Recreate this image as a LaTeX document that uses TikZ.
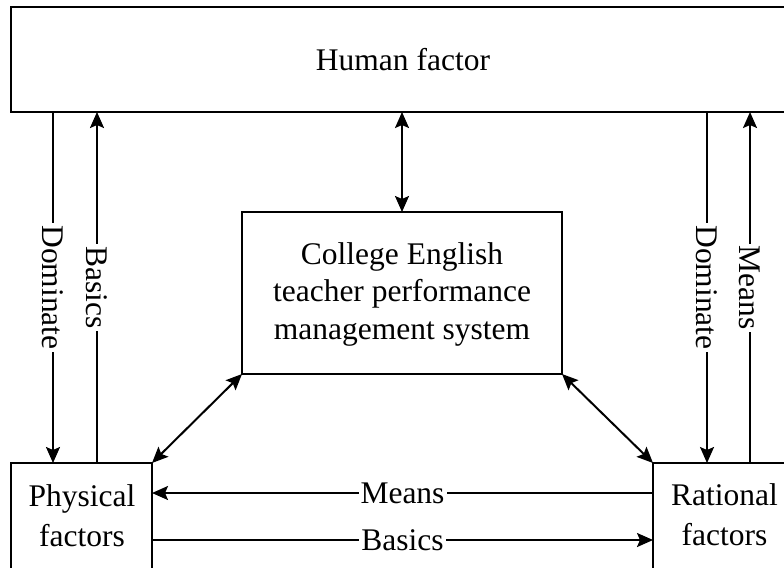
\documentclass[tikz,border=0pt]{standalone}
\usepackage{fontspec}
\setmainfont{Liberation Serif}
\usetikzlibrary{arrows.meta}
\tikzset{
  box/.style={draw, line width=1pt, rectangle, inner sep=0pt, outer sep=0pt, anchor=north west},
  txt/.style={align=center, inner sep=0pt, font=\fontsize{12.6}{16}\selectfont},
  arr/.style={line width=0.8pt, -{Stealth[length=6.4pt, width=5.6pt, inset=1.2pt]}},
  darr/.style={line width=0.8pt, {Stealth[length=6.4pt, width=5.6pt, inset=1.2pt]}-{Stealth[length=6.4pt, width=5.6pt, inset=1.2pt]}},
  lbl/.style={fill=white, inner sep=0.8pt, font=\fontsize{12.6}{15}\selectfont},
}
\begin{document}
\begin{tikzpicture}[x=0.4pt, y=-0.4pt]
\useasboundingbox (0,0) rectangle (784,567);
\clip (0,0) rectangle (784,567);
% boxes
\node[box, minimum width={789*0.4pt}, minimum height={105*0.4pt}] (human) at (11,7) {};
\node[txt] (humantxt) at (403,59.5) {Human factor};
\node[box, minimum width={320*0.4pt}, minimum height={162*0.4pt}] (center) at (242,212) {};
\node[txt, font=\fontsize{12.6}{15}\selectfont] (centertxt) at (402,294) {College English\\teacher performance\\management system};
\node[box, minimum width={141*0.4pt}, minimum height={150*0.4pt}] (phys) at (11,463) {};
\node[txt] (phystxt) at (82,516) {Physical\\factors};
\node[box, minimum width={200*0.4pt}, minimum height={150*0.4pt}] (rat) at (653,463) {};
\node[txt] (rattxt) at (724.5,514.5) {Rational\\factors};
% helper coordinates
\coordinate (xDL) at (53,0);
\coordinate (xBL) at (97,0);
\coordinate (xDR) at (707,0);
\coordinate (xMR) at (750,0);
\coordinate (yM) at (0,493);
\coordinate (yB) at (0,540);
% vertical connectors
\draw[arr] (xDL |- human.south) -- node[lbl, rotate=-90, midway] (lDL) {Dominate} (xDL |- phys.north);
\draw[arr] (xBL |- phys.north) -- node[lbl, rotate=-90, midway] (lBL) {Basics} (xBL |- human.south);
\draw[arr] (xDR |- human.south) -- node[lbl, rotate=-90, midway] (lDR) {Dominate} (xDR |- rat.north);
\draw[arr] (xMR |- rat.north) -- node[lbl, rotate=-90, midway] (lMR) {Means} (xMR |- human.south);
% horizontal connectors
\draw[arr] (yM -| rat.west) -- node[lbl, midway] (lM) {Means} (yM -| phys.east);
\draw[arr] (yB -| phys.east) -- node[lbl, midway] (lB) {Basics} (yB -| rat.west);
% centre connectors
\draw[darr] (center.north) -- (center.north |- human.south);
\draw[darr] (center.south west) -- (phys.north east);
\draw[darr] (center.south east) -- (rat.north west);
\end{tikzpicture}
\end{document}
